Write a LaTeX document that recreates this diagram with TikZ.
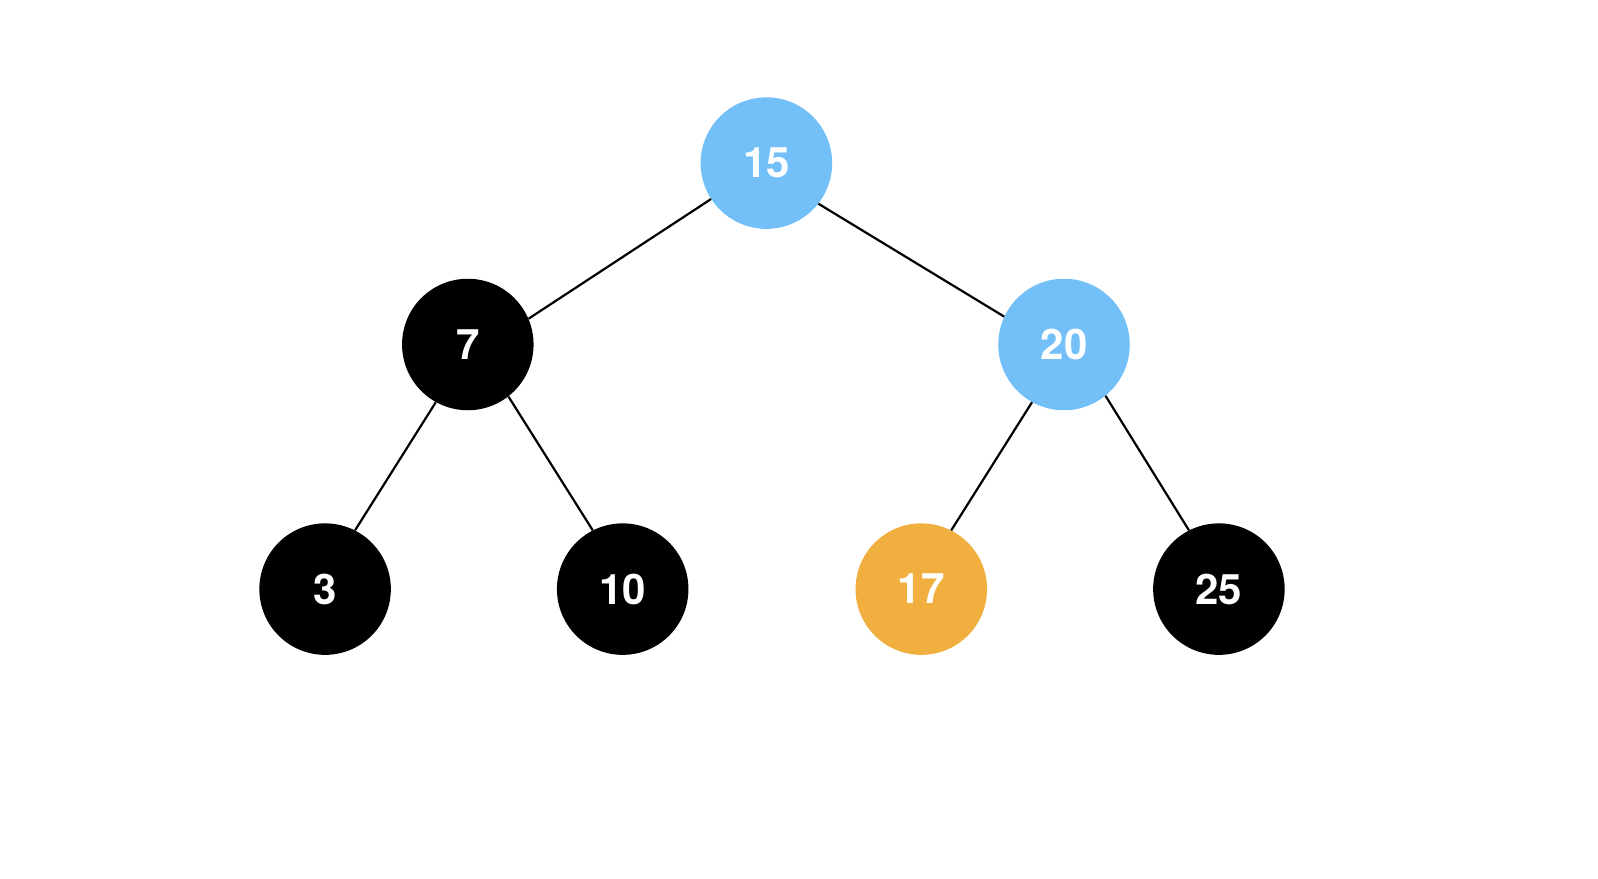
\documentclass[tikz,border=0pt]{standalone}
\usepackage{fontspec}
\setmainfont{TeX Gyre Heros}
\definecolor{nodeblue}{RGB}{115,192,249}
\definecolor{nodeorange}{RGB}{241,175,64}
\begin{document}
\begin{tikzpicture}[x=1pt,y=-1pt,
  treenode/.style={circle,minimum size=131.5pt,inner sep=0pt,text=white,font=\fontsize{42}{42}\selectfont\bfseries},
  blacknode/.style={treenode,fill=black},
  bluenode/.style={treenode,fill=nodeblue},
  orangenode/.style={treenode,fill=nodeorange},
  edge/.style={draw=black,line width=2.2pt}]
\useasboundingbox[fill=white] (0,0) rectangle (1598,878);
\node[bluenode] (n15) at (766.4,163.1) {15};
\node[blacknode] (n7) at (467.8,344.5) {7};
\node[bluenode] (n20) at (1064,344.5) {20};
\node[blacknode] (n3) at (325.1,589.1) {3};
\node[blacknode] (n10) at (622.7,589.1) {10};
\node[orangenode] (n17) at (921.3,589.1) {17};
\node[blacknode] (n25) at (1218.9,589.1) {25};
\draw[edge] (n15.213) -- (n7.23);
\draw[edge] (n15.322) -- (n20.155);
\draw[edge] (n7.241) -- (n3.63);
\draw[edge] (n7.308) -- (n10.117);
\draw[edge] (n20.241) -- (n17.63);
\draw[edge] (n20.309) -- (n25.117);
\end{tikzpicture}
\end{document}
